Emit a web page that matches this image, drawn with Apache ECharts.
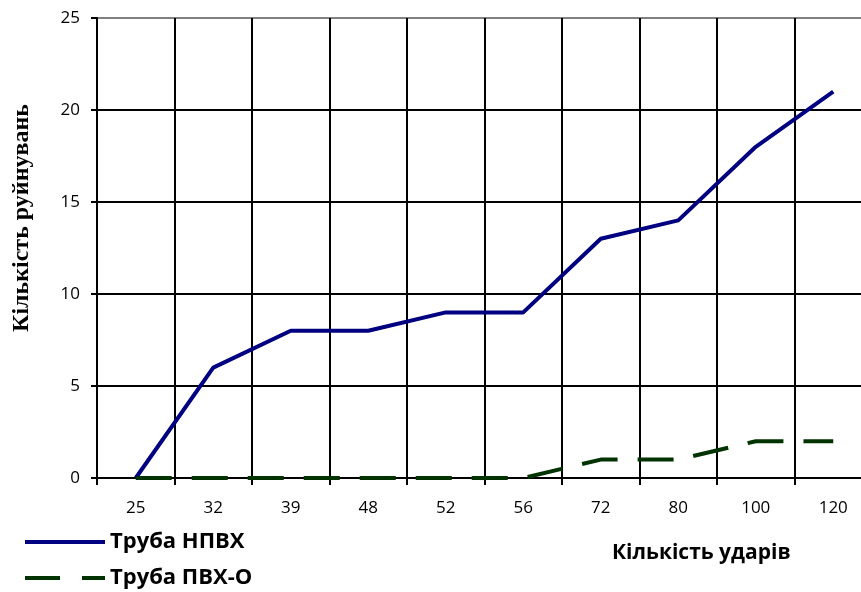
<!DOCTYPE html>
<html><head><meta charset="utf-8">
<script src="https://cdn.jsdelivr.net/npm/echarts@6/dist/echarts.min.js"></script>
<style>html,body{margin:0;padding:0;background:#fff}#c{width:861px;height:592px}</style>
</head><body><div id="c"></div>
<script>
const categories = ['25','32','39','48','52','56','72','80','100','120'];
const seriesNames = ['Труба НПВХ','Труба ПВХ-О'];
const npvh = [0, 6, 8, 8, 9, 9, 13, 14, 18, 21];
const pvho = [0, 0, 0, 0, 0, 0, 1, 1, 2, 2];
const xTitle = 'Кількість ударів';
const yTitle = 'Кількість руйнувань';

const legendText = {fontFamily: 'Open Sans', fontWeight: 'bold', fontSize: 22, color: '#000'};
const chart = echarts.init(document.getElementById('c'), null, {renderer:'canvas'});
chart.setOption({
  animation: false,
  backgroundColor: '#fff',
  graphic: [
    {type: 'text', left: 612, top: 543,
     style: {text: xTitle, font: 'bold 21px "Open Sans"', fill: '#000'}},
    {type: 'text', x: 22, y: 218, rotation: Math.PI / 2,
     style: {text: yTitle, font: 'bold 24px "Liberation Serif"', fill: '#000',
             align: 'center', verticalAlign: 'middle'}}
  ],
  grid: {left: 97, top: 18, width: 775, bottom: 114, containLabel: false, outerBoundsMode: 'none'},
  legend: [
    {left: 25, top: 531, itemWidth: 80, itemHeight: 4, padding: 0,
     data: [{name: seriesNames[0], icon: 'path://M0,0H80V4H0Z'}], textStyle: legendText},
    {left: 25, top: 567, itemWidth: 80, itemHeight: 4, padding: 0,
     data: [{name: seriesNames[1], icon: 'path://M0,0H35V4H0Z M57,0H80V4H57Z'}], textStyle: legendText}
  ],
  xAxis: {
    type: 'category', data: categories, boundaryGap: true,
    axisLine: {show: true, lineStyle: {color: '#000', width: 2}},
    axisTick: {show: true, length: 7, interval: 0, lineStyle: {color: '#000', width: 2}},
    axisLabel: {margin: 22, interval: 0, fontFamily: 'Open Sans', fontSize: 17, color: '#000'},
    splitLine: {show: true, interval: 0, lineStyle: {color: '#000', width: 2}}
  },
  yAxis: {
    type: 'value', min: 0, max: 25, interval: 5,
    axisLine: {show: true, lineStyle: {color: '#000', width: 2}},
    axisTick: {show: true, inside: false, length: 6, lineStyle: {color: '#000', width: 2}},
    axisLabel: {margin: 17, fontFamily: 'Open Sans', fontSize: 17, color: '#000'},
    splitLine: {show: true, lineStyle: {color: ['#000','#000','#000','#000','#000','#808080'], width: 2}}
  },
  series: [
    {name: seriesNames[0], type: 'line', data: npvh, symbol: 'none',
     lineStyle: {color: '#000080', width: 4}, itemStyle: {color: '#000080'}},
    {name: seriesNames[1], type: 'line', data: pvho, symbol: 'none',
     lineStyle: {color: '#003300', width: 4, type: [36, 20]}, itemStyle: {color: '#003300'}}
  ]
});
</script></body></html>
